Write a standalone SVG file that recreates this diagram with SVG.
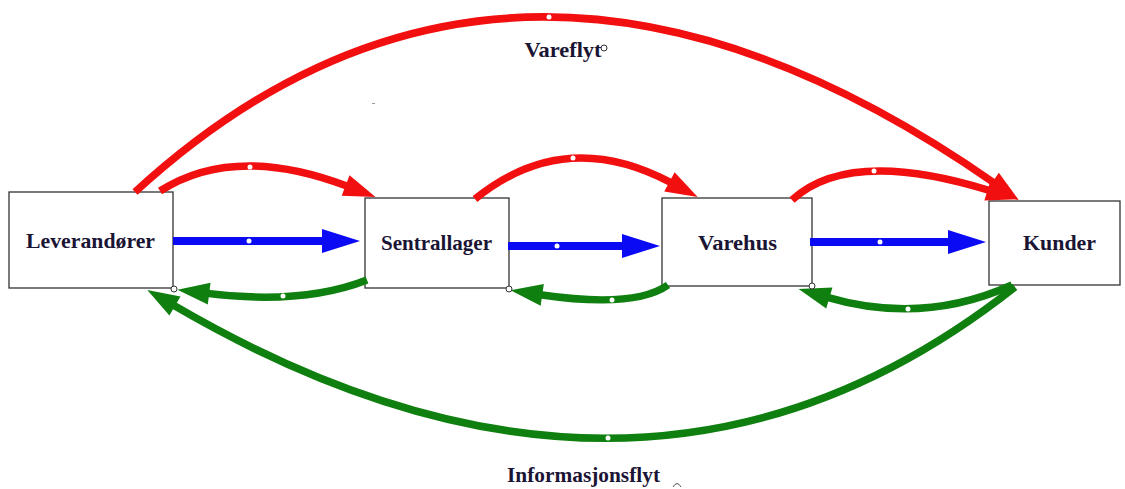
<svg xmlns="http://www.w3.org/2000/svg" width="1125" height="489" viewBox="0 0 1125 489">
  <style>
    .box { fill: #ffffff; stroke: #333333; stroke-width: 1.3; }
    .label { font-family: "Liberation Serif", "Times New Roman", serif; font-weight: bold; font-size: 22px; fill: #1b1535; text-anchor: middle; }
    .red { fill: none; stroke: #f20f0f; stroke-width: 7.5; marker-end: url(#redHead); }
    .green { fill: none; stroke: #0f7f0f; stroke-width: 7.5; marker-end: url(#greenHead); }
    .blue { fill: none; stroke: #0a0af5; stroke-width: 8; marker-end: url(#blueHead); }
    .nolead { marker-end: none; }
    .dot { fill: #ffffff; stroke: none; }
    .handle { fill: #ffffff; stroke: #333333; stroke-width: 1; }
  </style>
  <defs>
    <marker id="redHead" markerUnits="userSpaceOnUse" markerWidth="40" markerHeight="30" refX="2" refY="0" viewBox="0 -15 40 30" orient="auto" overflow="visible">
      <path d="M0,-11 L32,0 L0,11 z" fill="#f20f0f"/>
    </marker>
    <marker id="greenHead" markerUnits="userSpaceOnUse" markerWidth="40" markerHeight="30" refX="2" refY="0" viewBox="0 -15 40 30" orient="auto" overflow="visible">
      <path d="M0,-11 L32,0 L0,11 z" fill="#0f7f0f"/>
    </marker>
    <marker id="blueHead" markerUnits="userSpaceOnUse" markerWidth="44" markerHeight="30" refX="2" refY="0" viewBox="0 -15 44 30" orient="auto" overflow="visible">
      <path d="M0,-12 L38,0 L0,12 z" fill="#0a0af5"/>
    </marker>
  </defs>

  <rect width="1125" height="489" fill="#ffffff"/>

  <!-- nodes -->
  <g id="node-leverandorer">
    <rect class="box" x="9" y="192" width="164" height="96"/>
    <text class="label" x="90.5" y="248" textLength="129" lengthAdjust="spacingAndGlyphs">Leverandører</text>
  </g>
  <g id="node-sentrallager">
    <rect class="box" x="365" y="198" width="144" height="90"/>
    <text class="label" x="436.5" y="250" textLength="111" lengthAdjust="spacingAndGlyphs">Sentrallager</text>
  </g>
  <g id="node-varehus">
    <rect class="box" x="662" y="198" width="150" height="88"/>
    <text class="label" x="737.5" y="250" textLength="79" lengthAdjust="spacingAndGlyphs">Varehus</text>
  </g>
  <g id="node-kunder">
    <rect class="box" x="989" y="201" width="131" height="84"/>
    <text class="label" x="1059.5" y="250" textLength="73" lengthAdjust="spacingAndGlyphs">Kunder</text>
  </g>

  <!-- connectors -->
  <g id="connectors">
    <!-- goods flow (red, forward over the top) -->
    <path class="red" d="M135,192 Q511.7,-153.5 994.2,183"/>
    <path class="red" d="M160,191 Q234.7,143.3 347.5,186.3"/>
    <path class="red" d="M475,199 Q565,126.1 671.2,182.8"/>
    <path class="red" d="M792,200 Q849.3,147.2 989.5,190.5"/>

    <!-- direct deliveries (blue) -->
    <path class="blue" d="M173,241 L324,241"/>
    <path class="blue" d="M508,246 L624,246"/>
    <path class="blue" d="M810,242 L950,242"/>

    <!-- information flow (green, backward underneath) -->
    <path class="green" d="M1015,287 Q643.9,580.2 173.2,305.1"/>
    <path class="green" d="M367,280 Q302.6,305.2 207.2,293.4"/>
    <path class="green" d="M668,285 Q634.75,308.6 540.25,294.7"/>
    <path class="green" d="M1012,285 Q922.75,325.25 827.4,297.4"/>

    <!-- midpoint handles on the connectors -->
    <circle class="dot" cx="549" cy="17" r="2.5"/>
    <circle class="dot" cx="250" cy="167" r="2.5"/>
    <circle class="dot" cx="573" cy="158" r="2.5"/>
    <circle class="dot" cx="874" cy="171" r="2.5"/>
    <circle class="dot" cx="249" cy="241" r="2.5"/>
    <circle class="dot" cx="557" cy="246" r="2.5"/>
    <circle class="dot" cx="880" cy="242" r="2.5"/>
    <circle class="dot" cx="283" cy="296" r="2.5"/>
    <circle class="dot" cx="612" cy="300" r="2.5"/>
    <circle class="dot" cx="908" cy="309" r="2.5"/>
    <circle class="dot" cx="608" cy="438" r="2.5"/>
  </g>

  <!-- corner handles -->
  <circle class="handle" cx="174" cy="289" r="3"/>
  <circle class="handle" cx="509" cy="289" r="3"/>
  <circle class="handle" cx="812" cy="286" r="3"/>
  <circle class="handle" cx="604" cy="48" r="3"/>
  <path d="M673,487 Q677,480 681,487" fill="none" stroke="#555555" stroke-width="1"/>
  <rect x="372" y="103" width="3" height="1" fill="#999999"/>

  <!-- flow captions -->
  <text class="label" x="563" y="57" textLength="77" lengthAdjust="spacingAndGlyphs">Vareflyt</text>
  <text class="label" x="583.5" y="482" textLength="153" lengthAdjust="spacingAndGlyphs">Informasjonsflyt</text>
</svg>
